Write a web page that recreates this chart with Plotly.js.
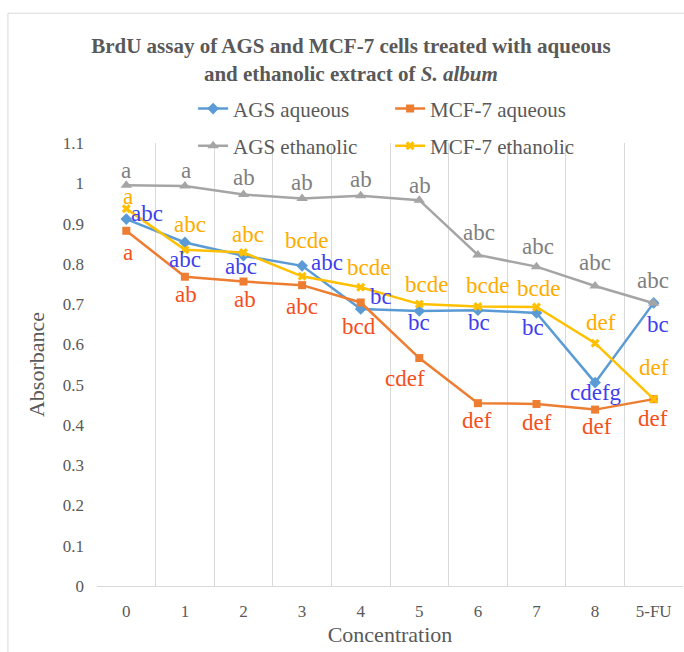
<!DOCTYPE html>
<html>
<head>
<meta charset="utf-8">
<script src="https://cdn.plot.ly/plotly-3.0.1.min.js"></script>
<style>html,body{margin:0;padding:0;background:#fff;} #chart{width:684px;height:652px;}</style>
</head>
<body>
<div id="chart"></div>
<script>
// ---- data ----
const categories = ['0','1','2','3','4','5','6','7','8','5-FU'];
const agsAqueous   = [0.911,0.853,0.820,0.795,0.688,0.683,0.685,0.678,0.505,0.703];
const mcfAqueous   = [0.882,0.768,0.756,0.747,0.704,0.566,0.454,0.452,0.438,0.464];
const agsEthanolic = [0.995,0.993,0.972,0.962,0.969,0.958,0.822,0.793,0.745,0.702];
const mcfEthanolic = [0.937,0.835,0.828,0.769,0.742,0.700,0.694,0.693,0.603,0.464];

const agsAqueousLetters   = ['abc','abc','abc','abc','bc','bc','bc','bc','cdefg','bc'];
const mcfAqueousLetters   = ['a','ab','ab','abc','bcd','cdef','def','def','def','def'];
const agsEthanolicLetters = ['a','a','ab','ab','ab','ab','abc','abc','abc','abc'];
const mcfEthanolicLetters = ['a','abc','abc','bcde','bcde','bcde','bcde','bcde','def','def'];

// ---- label placement (pixel offsets from each point: [dx, dy down]) ----
const agsAqueousOffsets   = [[21,-6],[0,17],[-3,11],[25,-3],[20,-12],[0,12],[1,12],[-4,15],[1,10],[4,22]];
const mcfAqueousOffsets   = [[2,22],[1,18],[1,18],[0,21],[-2,24],[-14,20],[-1,17],[0,19],[2,17],[-1,19]];
const agsEthanolicOffsets = [[0,-15],[1,-16],[0,-17],[0,-16],[0,-16],[1,-15],[1,-22],[1,-20],[0,-23],[-1,-23]];
const mcfEthanolicOffsets = [[2,-12],[5,-25],[4,-18],[4,-36],[8,-20],[7,-20],[10,-21],[2,-18],[6,-21],[0,-32]];

const FONT = 'Liberation Serif, Times New Roman, serif';
const TXT = '#595959';

const series = [
  {name:'AGS aqueous', y:agsAqueous, color:'#5B9BD5', symbol:'diamond', size:9, legend:'legend',
   letters:agsAqueousLetters, offsets:agsAqueousOffsets, labelColor:'#3F3FEE'},
  {name:'MCF-7 aqueous', y:mcfAqueous, color:'#ED7D31', symbol:'square', size:8, legend:'legend',
   letters:mcfAqueousLetters, offsets:mcfAqueousOffsets, labelColor:'#F4501E'},
  {name:'AGS ethanolic', y:agsEthanolic, color:'#A5A5A5', symbol:'triangle-up', size:10, legend:'legend2',
   letters:agsEthanolicLetters, offsets:agsEthanolicOffsets, labelColor:'#7F7F7F'},
  {name:'MCF-7 ethanolic', y:mcfEthanolic, color:'#FFC000', symbol:'x', size:8, legend:'legend2',
   letters:mcfEthanolicLetters, offsets:mcfEthanolicOffsets, labelColor:'#FFAC00'}
];

const traces = series.map(s => ({
  type:'scatter', mode:'lines+markers', name:s.name, x:categories, y:s.y,
  line:{color:s.color, width:2.5},
  marker:{color:s.color, symbol:s.symbol, size:s.size},
  legend:s.legend, hoverinfo:'skip'
}));

const annotations = [];
series.forEach(s => {
  s.letters.forEach((t,i) => {
    annotations.push({
      x:categories[i], y:s.y[i], xref:'x', yref:'y', text:t, showarrow:false,
      xanchor:'center', yanchor:'middle',
      xshift:s.offsets[i][0], yshift:-s.offsets[i][1],
      font:{family:FONT, size:23, color:s.labelColor}
    });
  });
});

const layout = {
  width:684, height:652,
  margin:{l:97, r:1, t:143, b:66},
  paper_bgcolor:'#fff', plot_bgcolor:'#fff',
  font:{family:FONT, color:TXT},
  title:{
    text:'<b>BrdU assay of AGS and MCF-7 cells treated with aqueous<br>and ethanolic extract of <i>S. album</i></b>',
    font:{family:FONT, size:21, color:TXT},
    xref:'container', x:0.513, xanchor:'center',
    yref:'container', y:0.918, yanchor:'middle'
  },
  xaxis:{
    type:'category', range:[-0.5,9.5], tickson:'boundaries',
    showgrid:true, gridcolor:'#D9D9D9', gridwidth:1,
    showline:true, linecolor:'#D9D9D9', linewidth:1,
    ticks:'', ticklabelstandoff:10,
    tickfont:{family:FONT, size:17, color:TXT},
    title:{text:'Concentration', font:{family:FONT, size:22, color:TXT}, standoff:6},
    zeroline:false, fixedrange:true
  },
  yaxis:{
    range:[0,1.1], dtick:0.1, tick0:0,
    showgrid:false, zeroline:false, showline:false,
    ticks:'', ticklabelstandoff:12,
    tickfont:{family:FONT, size:17, color:TXT},
    title:{text:'Absorbance', font:{family:FONT, size:22, color:TXT}, standoff:12},
    fixedrange:true
  },
  legend:{
    orientation:'h', x:0.164, xanchor:'left', y:1.077, yanchor:'middle',
    entrywidth:152, entrywidthmode:'pixels',
    font:{family:FONT, size:21, color:TXT}, bgcolor:'rgba(0,0,0,0)'
  },
  legend2:{
    orientation:'h', x:0.164, xanchor:'left', y:0.993, yanchor:'middle',
    entrywidth:152, entrywidthmode:'pixels',
    font:{family:FONT, size:21, color:TXT}, bgcolor:'rgba(0,0,0,0)'
  },
  shapes:[{
    type:'rect', xref:'paper', yref:'paper',
    x0:-0.152, x1:1.02, y0:-0.17, y1:1.293,
    line:{color:'#D9D9D9', width:1}, fillcolor:'rgba(0,0,0,0)', layer:'below'
  }],
  annotations:annotations,
  showlegend:true
};

Plotly.newPlot('chart', traces, layout, {displayModeBar:false, staticPlot:true});
</script>
</body>
</html>
